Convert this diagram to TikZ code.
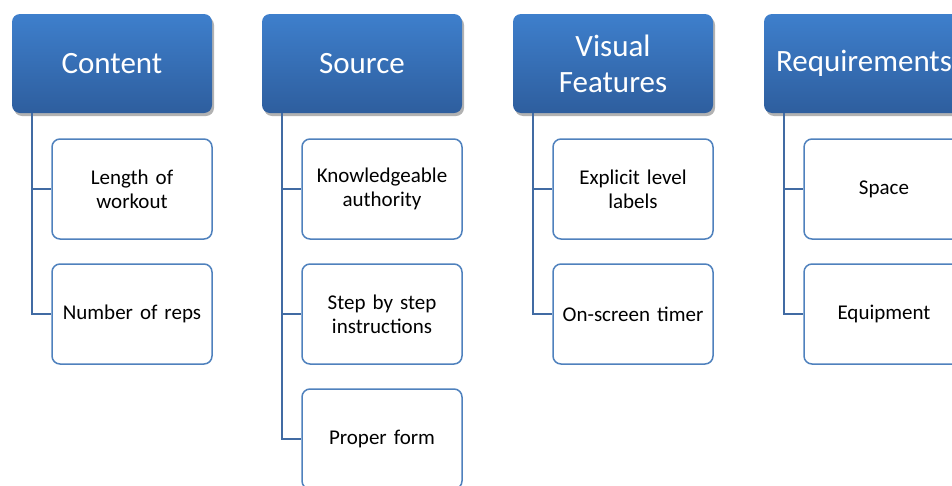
\documentclass[tikz,border=0pt]{standalone}
\usepackage{fontspec}
\setmainfont{Carlito}
\usetikzlibrary{shadows}
\definecolor{headtop}{RGB}{62,127,204}
\definecolor{headbot}{RGB}{46,94,158}
\definecolor{boxline}{RGB}{79,129,189}
\definecolor{linkline}{RGB}{65,107,163}
\begin{document}
\begin{tikzpicture}
    [
  x=1pt, y=1pt,
  head/.style={
    rectangle,
    rounded corners=8pt,
    top color=headtop,
    bottom color=headbot,
    draw=none,
    minimum width=200pt,
    minimum height=99pt,
    text width=190pt,
    align=center,
    text=white,
    font=\fontsize{31}{36}\selectfont,
    drop shadow={shadow xshift=2pt, shadow yshift=-3pt, opacity=0.3, fill=black}
  },
  item/.style={
    rectangle,
    rounded corners=8pt,
    draw=boxline,
    line width=1.5pt,
    fill=white,
    minimum width=160pt,
    minimum height=100pt,
    text width=145pt,
    align=center,
    text=black,
    font=\fontsize{21}{24}\selectfont
  },
  link/.style={
    draw=linkline,
    line width=1.5pt
  }
  ]
  \useasboundingbox (0,0) rectangle (952,-485);

  % headers
  \node (content) at (112,-63.5) [head] {Content};
  \node (source) at (362,-63.5) [head] {Source};
  \node (visual) at (613,-63.5) [head] {Visual\\Features};
  \node (require) at (864,-63.5) [head] {Requirements};

  % Content
  \node (length) at (132,-189) [item] {Length of\\workout};
  \node (reps) at (132,-314) [item] {Number of reps};
  \draw [link] ([xshift=20pt]content.south west) |- (length.west);
  \draw [link] ([xshift=20pt]content.south west) |- (reps.west);

  % Source
  \node (authority) at (382,-189) [item] {Knowledgeable\\authority};
  \node (steps) at (382,-314) [item] {Step by step\\instructions};
  \node (form) at (382,-439) [item] {Proper form};
  \draw [link] ([xshift=20pt]source.south west) |- (authority.west);
  \draw [link] ([xshift=20pt]source.south west) |- (steps.west);
  \draw [link] ([xshift=20pt]source.south west) |- (form.west);

  % Visual Features
  \node (labels) at (633,-189) [item] {Explicit level\\labels};
  \node (timer) at (633,-314) [item] {On-screen timer};
  \draw [link] ([xshift=20pt]visual.south west) |- (labels.west);
  \draw [link] ([xshift=20pt]visual.south west) |- (timer.west);

  % Requirements
  \node (space) at (884,-189) [item] {Space};
  \node (equip) at (884,-314) [item] {Equipment};
  \draw [link] ([xshift=20pt]require.south west) |- (space.west);
  \draw [link] ([xshift=20pt]require.south west) |- (equip.west);
\end{tikzpicture}
\end{document}
